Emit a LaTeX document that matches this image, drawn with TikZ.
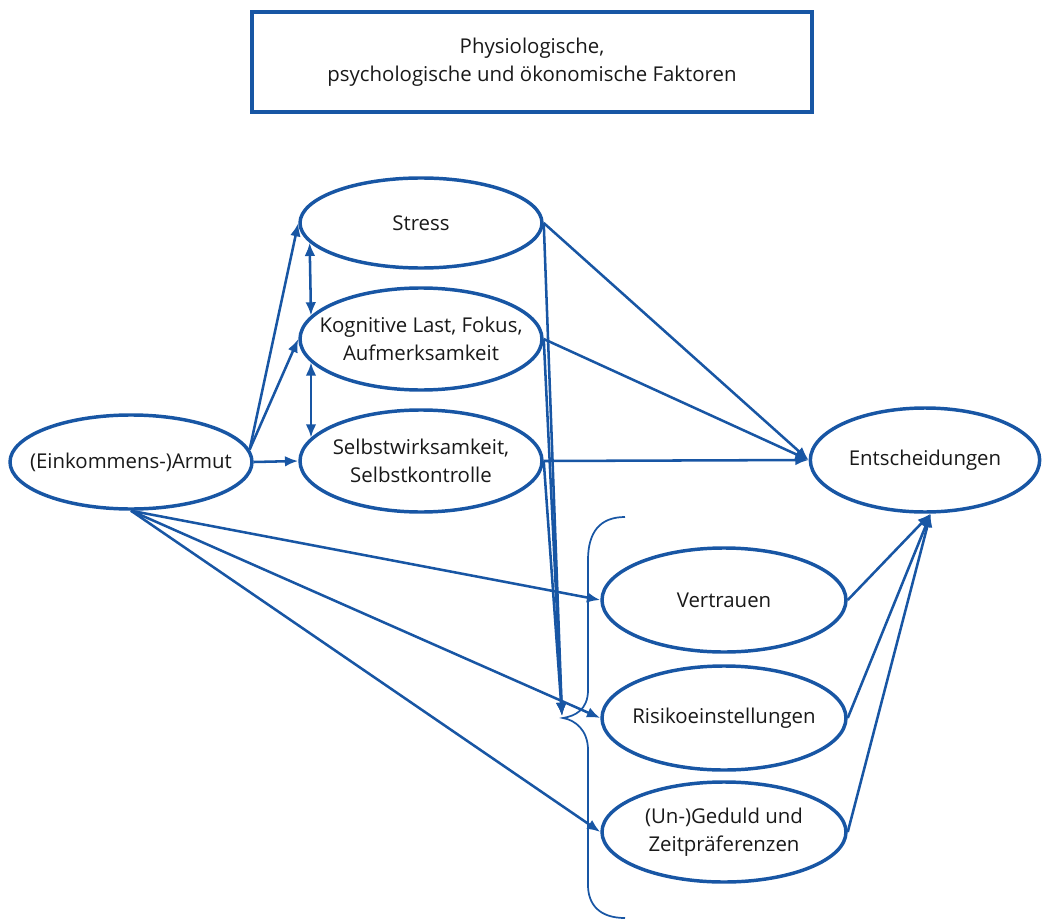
\documentclass[tikz,border=0pt]{standalone}
\usepackage{fontspec}
\setmainfont{Open Sans}
\usetikzlibrary{shapes.geometric,arrows.meta}
\definecolor{fblue}{RGB}{24,86,164}
\begin{document}
\begin{tikzpicture}[x=0.75pt,y=-0.75pt,
  every node/.style={font=\fontsize{15.3}{20.8}\selectfont, text=black!90, align=center},
  ell/.style={ellipse, draw=fblue, line width=2.6pt, inner sep=0pt, minimum width=181.5pt, minimum height=#1},
  ell/.default=76.5pt,
  txt/.style={label={[align=center]center:{#1}}},
  conn/.style={draw=fblue, line width=1.9pt, -{Latex[length=10pt,width=8pt]}},
  dconn/.style={draw=fblue, line width=1.9pt, {Latex[length=10pt,width=8pt]}-{Latex[length=10pt,width=8pt]}}]
\useasboundingbox (0,0) rectangle (1042,920);
\node[draw=fblue, line width=2.6pt, minimum width=420pt, minimum height=75pt] (top) at (532,62) {Physiologische,\\psychologische und ökonomische Faktoren};
\node[ell=67.5pt, txt={Stress}] (stress) at (421,223) {};
\node[ell, txt={Kognitive Last, Fokus,\\Aufmerksamkeit}] (kog) at (421,339) {};
\node[ell, txt={Selbstwirksamkeit,\\Selbstkontrolle}] (selbst) at (421,461) {};
\node[ell=70.5pt, txt={(Einkommens-)Armut}] (armut) at (131,462) {};
\node[ell=78pt, minimum width=172pt, txt={Entscheidungen}] (ent) at (925,460) {};
\node[ell=78pt, minimum width=183pt, txt={Vertrauen}] (vert) at (724,600) {};
\node[ell=78pt, minimum width=183pt, txt={Risikoeinstellungen}] (risk) at (724,718) {};
\node[ell=75pt, minimum width=183pt, txt={(Un-)Geduld und\\Zeitpräferenzen}] (ged) at (724,832) {};
\coordinate (tip) at (562,716);
% brace
\draw[fblue, line width=1.3pt] (625,517) .. controls (600,517) and (588,532) .. (588,560) -- (588,690)
  .. controls (588,710) and (575,716) .. (563,718) .. controls (575,720) and (588,730) .. (588,750)
  -- (588,885) .. controls (588,905) and (600,918) .. (625,918);
% arrows from Armut
\draw[conn] (armut.6) -- (stress.west);
\draw[conn] (armut.6) -- (kog.west);
\draw[conn] (armut.east) -- (selbst.west);
\draw[dconn] (stress.190.5) -- (kog.168);
\draw[dconn] (kog.192) -- (selbst.168);
\draw[conn] (armut.south) -- (vert.west);
\draw[conn] (armut.south) -- (risk.west);
\draw[conn] (armut.south) -- (ged.west);
% to Entscheidungen
\draw[conn] (stress.east) -- (ent.west);
\draw[conn] (kog.east) -- (ent.west);
\draw[conn] (selbst.east) -- (ent.west);
\draw[conn] (vert.east) -- (ent.-84);
\draw[conn] (risk.east) -- (ent.-84);
\draw[conn] (ged.east) -- (ent.-84);
% to brace
\draw[conn] (stress.east) -- (tip);
\draw[conn] (kog.east) -- (tip);
\draw[conn] (selbst.east) -- (tip);
\end{tikzpicture}
\end{document}
